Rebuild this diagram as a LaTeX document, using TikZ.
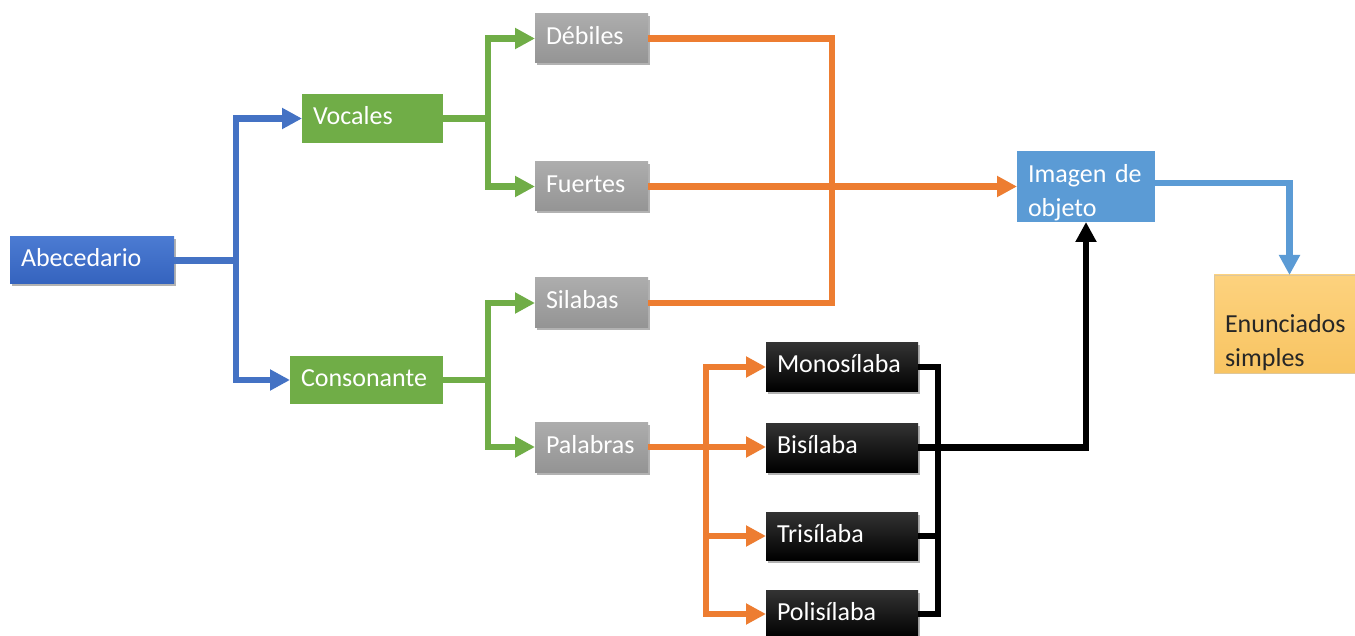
\documentclass[tikz,border=0pt]{standalone}
\usepackage{fontspec}
\setmainfont{Carlito}
\usetikzlibrary{arrows.meta,shadows}
\definecolor{cblue}{HTML}{4472C4}
\definecolor{cbluetop}{HTML}{4B7BD2}
\definecolor{cbluebot}{HTML}{3563BE}
\definecolor{cgreen}{HTML}{70AD47}
\definecolor{cgraytop}{HTML}{ADADAD}
\definecolor{cgraybot}{HTML}{949494}
\definecolor{corange}{HTML}{ED7D31}
\definecolor{clblue}{HTML}{5B9BD5}
\definecolor{cgold}{HTML}{FBCB6E}
\definecolor{cgoldtop}{HTML}{FDD27E}
\definecolor{cgoldbot}{HTML}{F8C462}
\begin{document}
\begin{tikzpicture}[x=1pt,y=-1pt,
  box/.style={anchor=north west, inner xsep=11pt, inner ysep=0pt, align=left,
    font=\fontsize{26}{34}\selectfont, text=white, outer sep=0pt},
  one/.style={text height=18pt, text depth=6pt},
  shad/.style={drop shadow={shadow xshift=1.5pt, shadow yshift=-2.5pt, opacity=0.3, fill=black}},
  bluebox/.style={box, one, top color=cbluetop, bottom color=cbluebot, shad},
  greenbox/.style={box, one, fill=cgreen},
  graybox/.style={box, one, top color=cgraytop, bottom color=cgraybot, shad},
  blackbox/.style={box, one, top color=black!80, bottom color=black, shad},
  lbluebox/.style={box, fill=clblue},
  goldbox/.style={box, top color=cgoldtop, bottom color=cgoldbot, text=black!85, draw=cgold!80!black!60, line width=0.6pt},
  con/.style={line width=6.5pt},
  tip/.style={-{Triangle[length=20pt,width=20pt]}},
  bl/.style={con, cblue},
  gr/.style={con, cgreen},
  orl/.style={con, corange},
  bk/.style={con, black},
  lb/.style={con, clblue}
]
\useasboundingbox (0,0) rectangle (1355,636);
\fill[white] (0,0) rectangle (1355,636);

% nodes
\node[bluebox, text width=142pt, minimum height=47pt] (abc) at (10,237) {Abecedario};
\node[greenbox, text width=119pt, minimum height=49pt] (voc) at (302,94) {Vocales};
\node[greenbox, text width=131pt, minimum height=48pt] (con) at (290,356) {Consonante};
\node[graybox, text width=91pt, minimum height=49pt] (deb) at (535,14) {Débiles};
\node[graybox, text width=91pt, minimum height=49pt] (fue) at (535,162) {Fuertes};
\node[graybox, text width=91pt, minimum height=50pt] (sil) at (535,278) {Silabas};
\node[graybox, text width=91pt, minimum height=50pt] (pal) at (535,422) {Palabras};
\node[blackbox, text width=130pt, minimum height=48pt] (mono) at (766,343) {Monosílaba};
\node[blackbox, text width=130pt, minimum height=49pt] (bis) at (766,423) {Bisílaba};
\node[blackbox, text width=130pt, minimum height=48pt] (tri) at (766,512) {Trisílaba};
\node[blackbox, text width=130pt, minimum height=48pt] (poli) at (766,590) {Polisílaba};
\node[lbluebox, text width=116pt, minimum height=71pt] (img) at (1017,151) {\rule{0pt}{31pt}Imagen de\\objeto};
\node[goldbox, text width=129pt, minimum height=98pt] (enun) at (1214,275) {\fontsize{26}{31}\selectfont\rule{0pt}{55pt}Enunciados\\simples};

% junction columns
\coordinate (ja) at (236,0);
\coordinate (jg) at (488,0);
\coordinate (jo) at (832,0);
\coordinate (jp) at (706,0);
\coordinate (jk) at (938,0);

% blue
\draw[bl, tip] (abc.east) -| (ja |- voc.west) -- (voc.west);
\draw[bl, tip] (abc.east) -| (ja |- con.west) -- (con.west);
% green
\draw[gr, tip] (voc.east) -| (jg |- deb.west) -- (deb.west);
\draw[gr, tip] (voc.east) -| (jg |- fue.west) -- (fue.west);
\draw[gr, tip] (con.east) -| (jg |- sil.west) -- (sil.west);
\draw[gr, tip] (con.east) -| (jg |- pal.west) -- (pal.west);
% orange
\draw[orl] (deb.east) -| (jo |- sil.east) -- (sil.east);
\draw[orl, tip] (fue.east) -- (fue.east -| img.west);
\draw[orl, tip] (pal.east) -| (jp |- mono.west) -- (mono.west);
\draw[orl, tip] (pal.east) -- (pal.east -| bis.west);
\draw[orl, tip] (pal.east) -| (jp |- tri.west) -- (tri.west);
\draw[orl, tip] (pal.east) -| (jp |- poli.west) -- (poli.west);
% black
\draw[bk] (mono.east) -| (jk |- poli.east) -- (poli.east);
\draw[bk] (tri.east) -- (jk |- tri.east);
\draw[bk, tip] (bis.east) -| (img.south);
% light blue
\draw[lb, tip] ([yshift=3.5pt]img.east) -| (enun.north);
\end{tikzpicture}
\end{document}
